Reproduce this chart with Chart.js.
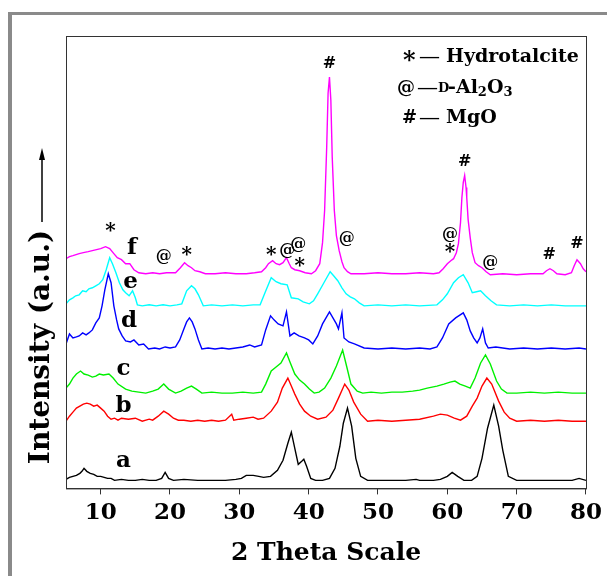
<!DOCTYPE html>
<html>
<head>
<meta charset="utf-8">
<script src="https://cdn.jsdelivr.net/npm/chart.js@4.4.1/dist/chart.umd.min.js"></script>
<style>
  html, body { margin: 0; padding: 0; background: #fff; }
  #wrap { width: 607px; height: 576px; }
</style>
</head>
<body>
<div id="wrap"><canvas id="xrdChart" width="607" height="576"></canvas></div>
<script>
// 2 theta (deg) / intensity pairs, offset already included
const sampleA = [[5,9],[5.5,11],[6,12],[6.5,13],[7,15],[7.3,17],[7.6,20],[8,17],[8.5,15],[9,14],[9.5,12],[10,12],[10.5,11],[11,10],[11.5,10],[12,8],[13,9],[14,8],[15,8],[16,9],[17,8],[18,8],[18.8,10],[19.3,16],[19.8,10],[20.5,8],[22,9],[24,8],[26,8],[28,8],[29.5,9],[30.3,10],[31,13],[32,13],[32.8,12],[33.5,11],[34.5,12],[35.5,18],[36.3,28],[37,45],[37.5,56],[38,40],[38.5,24],[39,27],[39.3,29],[39.7,22],[40.3,10],[41,8],[42,8],[43,10],[43.8,20],[44.5,42],[45,65],[45.6,80],[46.2,62],[46.8,30],[47.5,12],[48.5,8],[50,8],[52,8],[54,8],[55.5,9],[56,8],[57,8],[58,8],[59,9],[60,12],[60.7,16],[61.5,12],[62.4,8],[63.5,8],[64.3,12],[65,30],[65.8,60],[66.7,83],[67.4,62],[68,38],[68.8,12],[70,8],[72,8],[74,8],[76,8],[78,8],[79,10],[80,8]];
const sampleB = [[5,67],[5.5,72],[6,76],[6.5,80],[7,82],[7.5,84],[8,85],[8.5,84],[9,82],[9.5,83],[10,80],[10.5,77],[11,72],[11.5,69],[12,70],[12.5,68],[13,70],[14,69],[15,70],[16,67],[17,69],[17.5,68],[18.3,72],[19.1,77],[19.8,74],[20.5,70],[21.2,68],[22,68],[23,67],[24,68],[25,67],[26,68],[27,67],[28,68],[28.9,74],[29.2,68],[30,69],[31,70],[32,71],[32.7,69],[33.5,70],[34.6,77],[35.5,86],[36.2,100],[37,110],[37.5,102],[38,94],[38.7,84],[39.4,77],[40.3,72],[41.3,69],[42.5,71],[43.5,78],[44.3,90],[45.2,104],[45.8,98],[46.5,86],[47.5,74],[48.5,67],[50,68],[52,67],[54,68],[56,69],[58,72],[59,74],[60,73],[61,70],[61.9,68],[62.8,72],[63.6,82],[64.3,90],[65,102],[65.7,110],[66.4,104],[67.4,87],[68.2,76],[69,70],[70,67],[72,68],[74,67],[76,68],[78,67],[80,67]];
const sampleC = [[5,100],[5.5,104],[6,110],[6.5,114],[7.1,117],[7.6,114],[8.2,113],[8.8,111],[9.3,112],[9.8,114],[10.4,113],[11.2,114],[11.8,110],[12.5,104],[13.6,99],[14.5,97],[15.5,96],[16.5,95],[17.5,97],[18.3,99],[19.1,104],[19.8,99],[20.8,95],[21.6,97],[22.4,100],[23.1,102],[23.8,99],[24.6,95],[26,96],[27.5,95],[29,95],[30.5,96],[32,95],[33.2,96],[33.8,104],[34.6,117],[35.3,121],[36,125],[36.8,135],[37.3,126],[38,114],[38.7,108],[39.4,104],[40.1,99],[40.8,95],[41.5,96],[42.3,100],[43.2,110],[44,122],[44.9,138],[45.5,121],[46.1,104],[47,97],[47.8,95],[49,96],[50.5,95],[52,96],[53.5,96],[55,97],[56,98],[57.1,100],[58.5,102],[59.5,104],[60.4,106],[61.1,107],[61.8,104],[62.6,102],[63.3,100],[64,110],[64.8,125],[65.5,133],[66.2,124],[67.1,107],[67.8,99],[68.6,95],[70,95],[72,96],[74,95],[76,96],[78,95],[80,95]];
const sampleD = [[5,144],[5.5,154],[6,150],[6.5,151],[6.9,152],[7.4,155],[7.9,153],[8.3,155],[8.8,158],[9.3,165],[9.8,170],[10.2,182],[10.6,198],[11.1,214],[11.5,205],[11.9,182],[12.3,168],[12.6,159],[13.1,152],[13.6,147],[14.3,146],[14.8,148],[15.5,143],[16.2,144],[16.9,139],[17.8,140],[18.5,139],[19.3,141],[20,140],[20.8,141],[21.4,148],[22,159],[22.4,166],[22.8,170],[23.2,166],[23.6,159],[24.1,148],[24.6,139],[25.5,140],[26.5,139],[27.5,140],[28.5,139],[29.5,140],[30.5,141],[31.5,143],[32.2,141],[33.2,143],[33.8,158],[34.5,172],[35,168],[35.6,164],[36.3,162],[36.8,176],[37.3,152],[37.9,155],[38.6,152],[39.4,150],[40,148],[40.6,144],[41.3,152],[42,164],[42.5,170],[43,176],[43.5,170],[44,164],[44.3,159],[44.8,175],[45.1,150],[45.8,146],[46.6,144],[48,140],[50,139],[52,140],[54,139],[56,140],[57.5,139],[58.5,141],[59.3,150],[60.2,164],[61.2,170],[62.3,175],[62.8,168],[63.3,157],[63.8,150],[64.3,145],[64.7,150],[65.1,159],[65.5,145],[65.9,140],[67,141],[69,139],[71,140],[73,139],[75,140],[77,139],[79,140],[80,139]];
const sampleE = [[5,184],[5.5,188],[6,190],[6.4,192],[6.9,193],[7.4,197],[7.9,196],[8.3,199],[8.8,200],[9.3,202],[9.8,204],[10.3,208],[10.8,218],[11.3,230],[11.7,224],[12.2,215],[12.7,205],[13.2,198],[13.6,195],[14.1,192],[14.6,197],[15,190],[15.3,183],[16,182],[17,183],[18,182],[19,183],[20,182],[21,183],[21.7,184],[22.4,197],[23.1,202],[23.6,199],[24.1,193],[24.8,182],[26,183],[27.5,182],[29,183],[30.5,182],[32,183],[33,183],[33.7,195],[34.6,210],[35.3,206],[36,204],[36.9,203],[37.5,190],[38.5,189],[39.2,186],[40.1,184],[40.7,187],[41.3,194],[42.2,205],[43.1,216],[43.6,212],[44.2,207],[44.8,200],[45.4,194],[46,191],[46.6,189],[47.3,185],[48,182],[50,183],[52,182],[54,183],[56,182],[58.5,183],[59.3,188],[60,194],[60.9,205],[61.6,210],[62.3,213],[63,205],[63.6,195],[64.2,196],[64.8,197],[65.5,192],[66.3,187],[67.1,183],[69,182],[71,183],[73,182],[75,183],[77,182],[80,182]];
const sampleF = [[5,229],[5.5,231],[6,232],[6.9,234],[7.5,235],[8.2,236],[8.8,237],[9.4,238],[10,239],[10.7,241],[11.3,239],[11.9,234],[12.4,230],[13,228],[13.6,224],[14.2,224],[14.8,218],[15.5,215],[16.5,214],[17.5,215],[18.5,214],[19.5,215],[20.8,215],[21.5,220],[22.1,225],[22.6,222],[23.1,220],[23.6,217],[24.3,216],[25.1,214],[26.5,214],[28,215],[29.5,214],[31,214],[32.2,215],[33.2,216],[33.8,220],[34.2,224],[34.8,227],[35.3,224],[35.8,223],[36.3,225],[36.8,230],[37.2,224],[37.5,220],[38,218],[38.7,217],[39.5,215],[40.4,214],[41,217],[41.6,224],[42,245],[42.3,277],[42.6,340],[42.8,394],[43,410],[43.2,387],[43.4,330],[43.7,277],[44,252],[44.4,237],[44.8,226],[45.1,220],[45.6,216],[46.1,214],[48,214],[50,215],[52,214],[54,214],[56,215],[58,214],[58.8,215],[59.4,219],[60,224],[60.5,227],[60.9,229],[61.3,235],[61.6,244],[61.9,265],[62.1,290],[62.3,305],[62.5,312],[62.7,300],[62.8,290],[63,268],[63.3,250],[63.6,235],[64,225],[64.5,222],[65,220],[65.6,216],[66.2,213],[68,214],[70,213],[72,214],[73.8,214],[74.3,217],[74.8,219],[75.3,217],[75.8,214],[77,213],[77.9,215],[78.3,222],[78.7,228],[79.2,224],[79.6,219],[80,216]];

const sampleNames = ['a', 'b', 'c', 'd', 'e', 'f'];
const sampleColors = ['#000000', '#ff0000', '#00f000', '#0000ff', '#00ffff', '#ff00ff'];
const thetaTicks = [10, 20, 30, 40, 50, 60, 70, 80];

// text marks: phase symbols and trace letters, in data units
const phaseMarks = [
  ['*', 11.4, 260], ['@', 19.1, 231], ['*', 22.4, 236], ['*', 34.6, 236],
  ['@', 36.9, 237], ['@', 38.5, 243], ['*', 38.7, 225], ['#', 43.0, 423],
  ['@', 45.5, 249], ['@', 60.4, 253], ['*', 60.4, 239], ['#', 62.5, 326],
  ['@', 66.2, 225], ['#', 74.7, 233], ['#', 78.7, 244]
];
const letterMarks = [
  ['a', 13.3, 27], ['b', 13.3, 82], ['c', 13.3, 119],
  ['d', 14.1, 167], ['e', 14.3, 206], ['f', 14.5, 240]
];

const serif = "'DejaVu Serif', 'Liberation Serif', serif";

const decorPlugin = {
    id: 'decor',
    beforeDraw(chart) {
        const ctx = chart.ctx;
        ctx.save();
        ctx.fillStyle = '#fff';
        ctx.fillRect(0, 0, chart.width, chart.height);
        // outer grey frame
        ctx.fillStyle = '#8a8a8a';
        ctx.fillRect(8, 12, 4, chart.height);
        ctx.fillRect(8, 12, chart.width, 3);
        ctx.restore();
    },
    afterDatasetsDraw(chart) {
        const ctx = chart.ctx;
        const area = chart.chartArea;
        const xs = chart.scales.x, ys = chart.scales.y;
        ctx.save();
        ctx.strokeStyle = '#333';
        ctx.lineWidth = 1;
        ctx.strokeRect(area.left + 0.5, area.top + 0.5, area.right - area.left, area.bottom - area.top);

        ctx.fillStyle = '#000';
        ctx.textAlign = 'center';
        ctx.textBaseline = 'middle';
        phaseMarks.forEach(function (m) {
            ctx.font = 'bold ' + (m[0] === '*' ? 20 : 16) + 'px ' + serif;
            ctx.fillText(m[0], xs.getPixelForValue(m[1]), ys.getPixelForValue(m[2]) + (m[0] === '*' ? 4 : 0));
        });
        ctx.font = 'bold 23px ' + serif;
        letterMarks.forEach(function (m) {
            ctx.fillText(m[0], xs.getPixelForValue(m[1]), ys.getPixelForValue(m[2]));
        });

        // legend
        ctx.textAlign = 'left';
        ctx.font = 'bold 24px ' + serif;
        ctx.fillText('*', 403, 62);
        ctx.font = 'bold 18px ' + serif;
        ctx.fillText('@', 397, 88);
        ctx.fillText('#', 402, 118);
        ctx.font = 'bold 19px Liberation Serif, serif';
        ctx.fillText('\u2014', 420, 57);
        ctx.fillText('\u2014', 418, 88);
        ctx.fillText('\u2014', 420, 118);
        ctx.font = 'bold 19px ' + serif;
        ctx.fillText('Hydrotalcite', 446, 57);
        ctx.fillText('MgO', 446, 118);
        ctx.font = 'bold 13px ' + serif;
        ctx.fillText('D', 438, 89);
        ctx.font = 'bold 19px ' + serif;
        let x = 448;
        ctx.fillText('-Al', x, 88);
        x += ctx.measureText('-Al').width;
        ctx.font = 'bold 13px ' + serif;
        ctx.fillText('2', x, 93);
        x += ctx.measureText('2').width;
        ctx.font = 'bold 19px ' + serif;
        ctx.fillText('O', x, 88);
        x += ctx.measureText('O').width;
        ctx.font = 'bold 13px ' + serif;
        ctx.fillText('3', x, 93);

        // y axis title with arrow
        ctx.save();
        ctx.translate(42, 347);
        ctx.rotate(-Math.PI / 2);
        ctx.textAlign = 'center';
        ctx.font = 'bold 28px ' + serif;
        ctx.fillText('Intensity (a.u.)', 0, 0);
        ctx.restore();
        ctx.strokeStyle = '#000';
        ctx.lineWidth = 1.5;
        ctx.beginPath();
        ctx.moveTo(42, 222);
        ctx.lineTo(42, 156);
        ctx.stroke();
        ctx.beginPath();
        ctx.moveTo(42, 148);
        ctx.lineTo(39, 160);
        ctx.lineTo(45, 160);
        ctx.closePath();
        ctx.fill();
        ctx.restore();
    }
};

const ctx = document.getElementById('xrdChart').getContext('2d');
new Chart(ctx, {
    type: 'line',
    data: {
        datasets: [sampleA, sampleB, sampleC, sampleD, sampleE, sampleF].map(function (s, i) {
            return {
                label: sampleNames[i],
                data: s.map(function (p) { return { x: p[0], y: p[1] }; }),
                borderColor: sampleColors[i],
                borderWidth: 1.4,
                pointRadius: 0,
                tension: 0,
                fill: false
            };
        })
    },
    options: {
        responsive: false,
        animation: false,
        devicePixelRatio: 1,
        layout: { padding: { left: 66, top: 36, right: 0, bottom: 8 } },
        plugins: { legend: { display: false }, tooltip: { enabled: false } },
        scales: {
            x: {
                type: 'linear',
                min: 5,
                max: 80,
                afterBuildTicks: function (axis) {
                    axis.ticks = thetaTicks.map(function (v) { return { value: v }; });
                },
                grid: { drawOnChartArea: false, drawTicks: true, tickLength: 6, color: '#333' },
                border: { display: true, color: '#333', width: 1 },
                ticks: { color: '#000', padding: 5, maxRotation: 0, font: { family: serif, size: 23, weight: 'bold' } },
                title: {
                    display: true,
                    text: '2 Theta Scale',
                    color: '#000',
                    padding: { top: 6, bottom: 0 },
                    font: { family: serif, size: 25, weight: 'bold' }
                }
            },
            y: {
                display: false,
                min: 0,
                max: 451
            }
        }
    },
    plugins: [decorPlugin]
});
</script>
</body>
</html>
